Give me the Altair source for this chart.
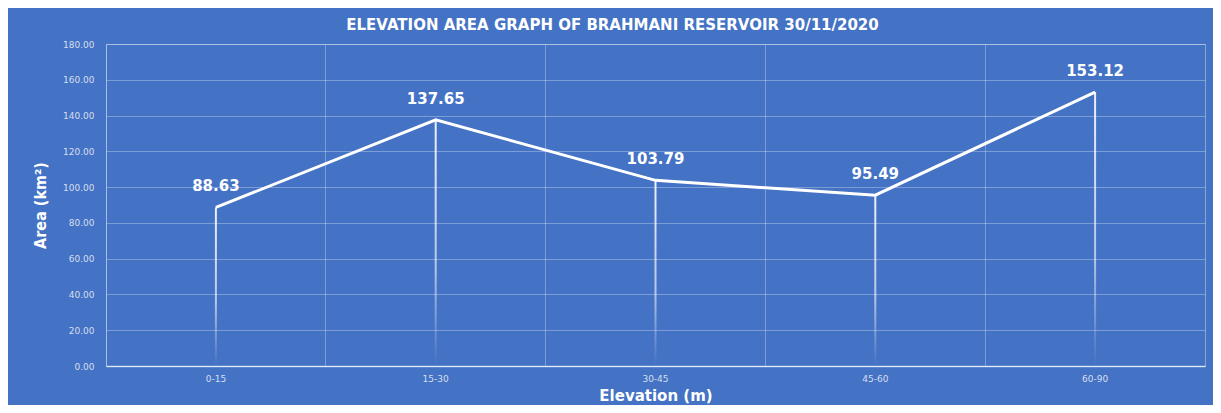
import altair as alt
import pandas as pd

categories = ["0-15", "15-30", "30-45", "45-60", "60-90"]
area = [88.63, 137.65, 103.79, 95.49, 153.12]
y_ticks = [0, 20, 40, 60, 80, 100, 120, 140, 160, 180]

df = pd.DataFrame({"Elevation": categories, "Area": area, "Zero": [0] * len(area)})

BG = "#4472C4"
GRID = "rgba(255,255,255,0.30)"
LABEL = "#d6dff0"

x_enc = alt.X(
    "Elevation:N",
    sort=categories,
    scale=alt.Scale(paddingInner=0, paddingOuter=0),
    axis=alt.Axis(
        title="Elevation (m)",
        labelAngle=0,
        labelFontSize=9,
        labelColor=LABEL,
        labelFont="DejaVu Sans",
        labelPadding=8,
        ticks=False,
        grid=True,
        bandPosition=0,
        gridColor=GRID,
        domainColor="rgba(255,255,255,0.65)",
        domainWidth=1.5,
        titleFont="DejaVu Sans",
        titleFontSize=15,
        titleFontWeight="bold",
        titleColor="white",
        titleX=549.5,
        titleY=29,
        titleBaseline="middle",
    ),
)

y_enc = alt.Y(
    "Area:Q",
    scale=alt.Scale(domain=[0, 180], nice=False),
    axis=alt.Axis(
        title="Area (km²)",
        values=y_ticks,
        tickCount=10,
        labelOverlap=False,
        format=".2f",
        labelFontSize=9,
        labelColor=LABEL,
        labelFont="DejaVu Sans",
        labelPadding=12,
        ticks=False,
        domain=False,
        gridColor=GRID,
        titleFont="DejaVu Sans Condensed",
        titleFontSize=16,
        titleFontWeight="bold",
        titleColor="white",
        titleX=-66,
        titleY=161,
        titleAngle=-90,
        titleBaseline="middle",
    ),
)

drops = alt.Chart(df).mark_bar(
    size=2,
    color=alt.Gradient(
        gradient="linear",
        stops=[
            alt.GradientStop(color="rgba(255,255,255,0.9)", offset=0),
            alt.GradientStop(color="rgba(255,255,255,0.6)", offset=0.6),
            alt.GradientStop(color="rgba(255,255,255,0.0)", offset=1),
        ],
        x1=0, x2=0, y1=0, y2=1,
    ),
).encode(x=x_enc, y=y_enc, y2="Zero:Q")

line = alt.Chart(df).mark_line(color="white", strokeWidth=3).encode(x=x_enc, y=y_enc)

labels = alt.Chart(df).mark_text(
    fontSize=15, fontWeight="bold", color="white", font="DejaVu Sans",
    dy=-21, baseline="middle",
).encode(
    x=x_enc,
    y=y_enc,
    text=alt.Text("Area:Q", format=".2f"),
)

chart = (
    alt.layer(drops, line, labels)
    .properties(
        width=1099,
        height=322,
        background=BG,
        autosize=alt.AutoSizeParams(type="none"),
        padding={"left": 98, "top": 36, "right": 8, "bottom": 39},
        title=alt.TitleParams(
            "ELEVATION AREA GRAPH OF BRAHMANI RESERVOIR 30/11/2020",
            font="DejaVu Sans",
            fontSize=15,
            fontWeight="bold",
            color="white",
            anchor="middle",
            dx=-43,
            offset=7,
        ),
    )
    .configure_view(stroke="rgba(255,255,255,0.35)")
)

chart.save("out.html", embed_options={"renderer": "svg", "actions": False})
